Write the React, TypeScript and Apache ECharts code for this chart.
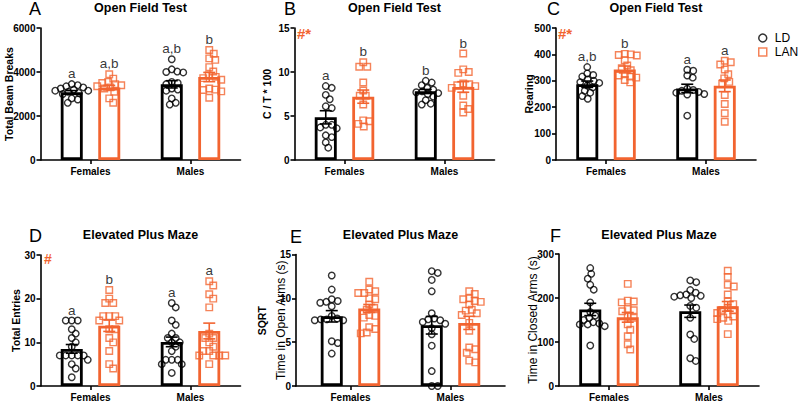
import React, { useEffect, useRef } from 'react';
import * as echarts from 'echarts';

const LD_COLOR = '#000000';
const LAN_COLOR = '#F26430';
const FONT = '"Liberation Sans", Arial, Helvetica, sans-serif';

const sexes = ['Females', 'Males'];
const groupNames = ['LD', 'LAN'];

// ---- Panel A: Open Field Test, Total Beam Breaks
const aLdFemales = [3450, 3400, 3350, 3300, 3250, 3200, 3150, 3150, 3100, 3050, 3000, 2800, 2750, 2600];
const aLanFemales = [3900, 3700, 3550, 3500, 3450, 3400, 3350, 3300, 3250, 3100, 2800, 2600];
const aLdMales = [4580, 4120, 4020, 4000, 3980, 3550, 3500, 3450, 3250, 3200, 3150, 2800, 2600, 2520];
const aLanMales = [5000, 4830, 4620, 4550, 4220, 4020, 3850, 3780, 3720, 3650, 3250, 3200, 3180, 3120, 2830];
const aMeans = [3080, 3290, 3440, 3770];
const aSems = [75, 100, 165, 210];
const aLetters = ['a', 'a,b', 'a,b', 'b'];

// ---- Panel B: Open Field Test, C / T * 100
const bLdFemales = [8.4, 8.2, 7.4, 6.9, 6.1, 5.9, 4.0, 4.0, 3.7, 3.6, 2.8, 2.6, 2.0, 1.4];
const bLanFemales = [11.1, 10.6, 10.6, 8.8, 7.9, 7.3, 7.3, 6.3, 4.5, 4.4, 4.1, 3.8];
const bLdMales = [9.0, 8.8, 8.5, 8.2, 8.0, 7.8, 7.7, 7.6, 7.5, 7.2, 6.8, 6.4, 6.3];
const bLanMales = [12.1, 10.3, 10.0, 9.9, 8.7, 8.6, 8.5, 8.4, 8.2, 7.3, 6.2, 5.8, 5.4];
const bMeans = [4.85, 7.2, 7.8, 8.3];
const bSems = [0.75, 0.75, 0.22, 0.6];
const bLetters = ['a', 'b', 'b', 'b'];

// ---- Panel C: Open Field Test, Rearing
const cLdFemales = [352, 328, 322, 316, 305, 300, 295, 292, 282, 275, 262, 255, 242, 232];
const cLanFemales = [402, 400, 398, 396, 378, 358, 348, 340, 325, 320, 316, 312, 303, 294];
const cLdMales = [342, 338, 320, 312, 270, 265, 262, 258, 255, 250, 248, 168];
const cLanMales = [376, 370, 362, 343, 325, 309, 296, 288, 246, 212, 177, 145];
const cMeans = [287, 343, 271, 281];
const cSems = [12, 13, 16, 22];
const cLetters = ['a,b', 'b', 'a', 'a'];

// ---- Panel D: Elevated Plus Maze, Total Entries
const dLdFemales = [15, 15, 15, 13, 12, 11, 10, 9, 7, 7, 7, 7, 7, 6, 5, 4, 2];
const dLanFemales = [22, 20, 19, 19, 16, 16, 16, 15, 15, 13, 13, 11, 10, 8, 5, 4];
const dLdMales = [19, 18, 15, 14, 12, 11, 11, 10, 10, 9, 8, 6, 6, 6, 5, 5, 3];
const dLanMales = [24, 23, 21, 20, 18, 12, 11, 11, 10, 9, 8, 8, 7, 7, 7, 7, 5];
const dMeans = [8.5, 13.8, 10.1, 12.6];
const dSems = [1.0, 1.3, 1.1, 1.8];
const dLetters = ['a', 'b', 'a', 'a'];

// ---- Panel E: Elevated Plus Maze, SQRT Time in Open Arms (s)
const eLdFemales = [12.6, 11.0, 9.9, 9.7, 9.6, 9.5, 9.1, 8.0, 7.7, 7.6, 7.6, 7.5, 7.5, 5.1, 4.9, 3.7];
const eLanFemales = [11.9, 11.0, 10.8, 10.6, 10.6, 10.0, 9.9, 9.3, 8.9, 8.7, 8.1, 8.0, 7.8, 6.7, 6.5, 6.1, 6.0];
const eLdMales = [13.1, 12.9, 12.1, 10.8, 8.3, 7.7, 7.6, 7.5, 7.3, 7.1, 6.6, 5.9, 4.6, 1.7, 0.0, 0.0];
const eLanMales = [10.8, 10.5, 10.0, 9.9, 9.7, 9.6, 9.3, 8.7, 8.6, 8.3, 8.1, 7.2, 6.3, 4.4, 4.2, 3.8, 2.9, 2.7];
const eMeans = [7.95, 8.85, 6.93, 7.2];
const eSems = [0.65, 0.45, 1.0, 0.75];
const eLetters: string[] = [];

// ---- Panel F: Elevated Plus Maze, Time in Closed Arms (s)
const fLdFemales = [268, 255, 244, 230, 219, 190, 168, 160, 155, 150, 145, 142, 140, 140, 136, 92];
const fLanFemales = [232, 194, 192, 190, 175, 172, 170, 158, 155, 140, 128, 113, 95, 83];
const fLdMales = [240, 236, 218, 212, 208, 206, 205, 203, 200, 182, 178, 155, 117, 107, 63, 57];
const fLanMales = [262, 248, 230, 226, 208, 192, 186, 178, 173, 172, 166, 164, 158, 155, 152, 148, 118];
const fMeans = [174, 156, 170, 181];
const fSems = [14, 11, 14, 11];
const fLetters: string[] = [];

// x positions (in category units) of LD/LAN bars within Females(0) and Males(1)
const barSlots = [-0.1875, 0.1875, 0.8125, 1.1875];

type Panel = {
  letter: string;
  title: string;
  yName: string;
  yPrefix: string;
  yNameBold: boolean;
  yMax: number;
  yStep: number;
  groups: number[][];
  means: number[];
  sems: number[];
  letters: string[];
  mark: string;
  left: number;
  top: number;
  width: number;
  height: number;
  xMin: number;
  xMax: number;
  nameGap: number;
  letterX: number;
  titleY: number;
  letterY: number;
  markX: number;
  markY: number;
  markSize: number;
  prefixX: number;
};

const panels: Panel[] = [
  {
    letter: 'A', title: 'Open Field Test', yName: 'Total Beam Breaks', yPrefix: '', yNameBold: true,
    yMax: 6000, yStep: 2000, groups: [aLdFemales, aLanFemales, aLdMales, aLanMales],
    means: aMeans, sems: aSems, letters: aLetters, mark: '',
    left: 40.5, top: 28, width: 200, height: 132, xMin: -0.5, xMax: 1.5, nameGap: 26,
    letterX: 29, titleY: 8, letterY: 8.5, markX: 0, markY: 0, markSize: 0, prefixX: 0,
  },
  {
    letter: 'B', title: 'Open Field Test', yName: 'C / T * 100', yPrefix: '', yNameBold: true,
    yMax: 15, yStep: 5, groups: [bLdFemales, bLanFemales, bLdMales, bLanMales],
    means: bMeans, sems: bSems, letters: bLetters, mark: '#*',
    left: 294.5, top: 28, width: 200, height: 132, xMin: -0.5, xMax: 1.5, nameGap: 22,
    letterX: 284, titleY: 8, letterY: 8.5, markX: 297, markY: 33, markSize: 15, prefixX: 0,
  },
  {
    letter: 'C', title: 'Open Field Test', yName: 'Rearing', yPrefix: '', yNameBold: true,
    yMax: 500, yStep: 100, groups: [cLdFemales, cLanFemales, cLdMales, cLanMales],
    means: cMeans, sems: cSems, letters: cLetters, mark: '#*',
    left: 556, top: 28, width: 200, height: 132, xMin: -0.5, xMax: 1.5, nameGap: 22,
    letterX: 547, titleY: 8, letterY: 8.5, markX: 558, markY: 33, markSize: 15, prefixX: 0,
  },
  {
    letter: 'D', title: 'Elevated Plus Maze', yName: 'Total Entries', yPrefix: '', yNameBold: true,
    yMax: 30, yStep: 10, groups: [dLdFemales, dLanFemales, dLdMales, dLanMales],
    means: dMeans, sems: dSems, letters: dLetters, mark: '#',
    left: 40.5, top: 255, width: 200, height: 132, xMin: -0.5, xMax: 1.5, nameGap: 19,
    letterX: 29, titleY: 234.5, letterY: 236, markX: 44, markY: 259, markSize: 14, prefixX: 0,
  },
  {
    letter: 'E', title: 'Elevated Plus Maze', yName: 'Time in Open Arms (s)', yPrefix: 'SQRT', yNameBold: false,
    yMax: 15, yStep: 5, groups: [eLdFemales, eLanFemales, eLdMales, eLanMales],
    means: eMeans, sems: eSems, letters: eLetters, mark: '',
    left: 296, top: 254.5, width: 209, height: 132.5, xMin: -0.545, xMax: 1.545, nameGap: 9,
    letterX: 290, titleY: 234.5, letterY: 236.5, markX: 0, markY: 0, markSize: 0, prefixX: 262,
  },
  {
    letter: 'F', title: 'Elevated Plus Maze', yName: 'Time in Closed Arms (s)', yPrefix: '', yNameBold: false,
    yMax: 300, yStep: 100, groups: [fLdFemales, fLanFemales, fLdMales, fLanMales],
    means: fMeans, sems: fSems, letters: fLetters, mark: '',
    left: 559, top: 254, width: 200, height: 132, xMin: -0.5, xMax: 1.5, nameGap: 20,
    letterX: 550, titleY: 234.5, letterY: 236, markX: 0, markY: 0, markSize: 0, prefixX: 0,
  },
];

// simple beeswarm layout (pixel space) so that hollow markers do not pile up
function swarm(values: number[], pxPerY: number, diameter: number) {
  const placed: { x: number; y: number }[] = [];
  const order = values.slice().sort((a, b) => b - a);
  const res: { off: number; v: number }[] = [];
  for (const v of order) {
    const y = v * pxPerY;
    let chosen = 0;
    for (let k = 0; k < 400; k++) {
      const step = Math.ceil(k / 2) * 0.5;
      const cand = k === 0 ? 0 : k % 2 === 1 ? step : -step;
      let ok = true;
      for (const q of placed) {
        const dx = q.x - cand;
        const dy = q.y - y;
        if (dx * dx + dy * dy < diameter * diameter) {
          ok = false;
          break;
        }
      }
      if (ok) {
        chosen = cand;
        break;
      }
    }
    placed.push({ x: chosen, y });
    res.push({ off: chosen, v });
  }
  return res;
}

function buildOption() {
  const grid: any[] = [];
  const xAxis: any[] = [];
  const yAxis: any[] = [];
  const series: any[] = [];
  const graphic: any[] = [];

  panels.forEach((p, i) => {
    grid.push({ left: p.left, top: p.top, width: p.width, height: p.height, containLabel: false });
    xAxis.push({
      type: 'value',
      gridIndex: i,
      min: p.xMin,
      max: p.xMax,
      axisLine: { show: true, onZero: false, lineStyle: { color: '#000', width: 1.6 } },
      axisTick: { show: true, customValues: [0, 1], length: 4, lineStyle: { color: '#000', width: 1.6 } },
      axisLabel: {
        show: true,
        customValues: [0, 1],
        formatter: (v: number) => sexes[Math.round(v)] || '',
        color: '#000',
        fontSize: 10,
        fontWeight: 'bold',
        fontFamily: FONT,
        margin: 6,
      },
      splitLine: { show: false },
    });
    yAxis.push({
      type: 'value',
      gridIndex: i,
      min: 0,
      max: p.yMax,
      interval: p.yStep,
      name: p.yName,
      nameLocation: 'middle',
      nameGap: p.nameGap,
      nameMoveOverlap: false,
      nameTextStyle: {
        color: '#000',
        fontFamily: FONT,
        fontSize: p.yNameBold ? 10.5 : 12,
        fontWeight: p.yNameBold ? 'bold' : 'normal',
      },
      axisLine: { show: true, onZero: false, lineStyle: { color: '#000', width: 1.6 } },
      axisTick: { show: true, length: 4, lineStyle: { color: '#000', width: 1.6 } },
      axisLabel: {
        color: '#000',
        fontSize: 10,
        fontWeight: 'bold',
        fontFamily: FONT,
        margin: 5,
        formatter: (v: number) => String(v),
      },
      splitLine: { show: false },
    });

    const pxPerX = p.width / (p.xMax - p.xMin);
    const pxPerY = p.height / p.yMax;

    // bars
    series.push({
      type: 'bar',
      name: 'bars' + i,
      xAxisIndex: i,
      yAxisIndex: i,
      barWidth: 22,
      silent: true,
      z: 1,
      itemStyle: { color: '#ffffff', borderWidth: 2.8 },
      data: p.means.map((m, k) => ({
        value: [barSlots[k], m],
        itemStyle: { borderColor: k % 2 === 0 ? LD_COLOR : LAN_COLOR },
      })),
    });

    // individual points
    [0, 1].forEach((g) => {
      const data: number[][] = [];
      [g, g + 2].forEach((k) => {
        swarm(p.groups[k], pxPerY, 5.8).forEach((pt) => {
          data.push([barSlots[k] + pt.off / pxPerX, pt.v]);
        });
      });
      series.push({
        type: 'scatter',
        name: groupNames[g],
        xAxisIndex: i,
        yAxisIndex: i,
        symbol: g === 0 ? 'circle' : 'rect',
        symbolSize: 6.5,
        clip: false,
        silent: true,
        z: 3,
        itemStyle: {
          color: 'rgba(255,255,255,0)',
          borderColor: g === 0 ? LD_COLOR : LAN_COLOR,
          borderWidth: 1.4,
        },
        data,
      });
    });

    // error bars (mean ± SEM)
    series.push({
      type: 'custom',
      name: 'sem' + i,
      xAxisIndex: i,
      yAxisIndex: i,
      silent: true,
      z: 5,
      data: p.means.map((m, k) => [barSlots[k], m, p.sems[k], k % 2]),
      renderItem: (_params: any, api: any) => {
        const x = api.value(0);
        const m = api.value(1);
        const s = api.value(2);
        const g = api.value(3);
        const top = api.coord([x, m + s]);
        const bot = api.coord([x, m - s]);
        const color = g ? LAN_COLOR : LD_COLOR;
        const hw = 6;
        const st = { stroke: color, lineWidth: 1.6 };
        return {
          type: 'group',
          children: [
            { type: 'line', shape: { x1: top[0], y1: top[1], x2: bot[0], y2: bot[1] }, style: st },
            { type: 'line', shape: { x1: top[0] - hw, y1: top[1], x2: top[0] + hw, y2: top[1] }, style: st },
            { type: 'line', shape: { x1: bot[0] - hw, y1: bot[1], x2: bot[0] + hw, y2: bot[1] }, style: st },
          ],
        };
      },
    });

    // significance letters above each group
    if (p.letters.length) {
      series.push({
        type: 'scatter',
        name: 'letters' + i,
        xAxisIndex: i,
        yAxisIndex: i,
        symbolSize: 1,
        silent: true,
        clip: false,
        z: 6,
        itemStyle: { color: 'rgba(0,0,0,0)' },
        label: {
          show: true,
          position: 'top',
          distance: 3,
          formatter: '{b}',
          color: '#000',
          fontSize: 13.5,
          fontFamily: FONT,
        },
        data: p.letters.map((t, k) => ({ name: t, value: [barSlots[k], Math.max(...p.groups[k])] })),
      });
    }

    // panel title and letter
    graphic.push({
      type: 'text',
      x: p.left + p.width / 2,
      y: p.titleY,
      silent: true,
      style: {
        text: p.title,
        fontSize: 12.5,
        fontWeight: 'bold',
        fontFamily: FONT,
        fill: '#000',
        align: 'center',
        verticalAlign: 'middle',
      },
    });
    graphic.push({
      type: 'text',
      x: p.letterX,
      y: p.letterY,
      silent: true,
      style: {
        text: p.letter,
        fontSize: 18,
        fontFamily: FONT,
        fill: '#000',
        align: 'left',
        verticalAlign: 'middle',
      },
    });
    if (p.mark) {
      graphic.push({
        type: 'text',
        x: p.markX,
        y: p.markY,
        silent: true,
        style: {
          text: p.mark,
          fontSize: p.markSize,
          fontWeight: 'bold',
          fontFamily: FONT,
          fill: LAN_COLOR,
          align: 'left',
          verticalAlign: 'middle',
        },
      });
    }
    if (p.yPrefix) {
      graphic.push({
        type: 'text',
        x: p.prefixX,
        y: p.top + p.height / 2,
        rotation: Math.PI / 2,
        silent: true,
        style: {
          text: p.yPrefix,
          fontSize: 10.5,
          fontWeight: 'bold',
          fontFamily: FONT,
          fill: '#000',
          align: 'center',
          verticalAlign: 'middle',
        },
      });
    }
  });

  return {
    animation: false,
    backgroundColor: '#ffffff',
    legend: {
      orient: 'vertical',
      left: 753,
      top: 27,
      itemWidth: 14,
      itemHeight: 8,
      itemGap: 2,
      selectedMode: false,
      textStyle: { fontSize: 12, fontFamily: FONT, color: '#000' },
      data: [
        { name: 'LD', icon: 'circle', itemStyle: { color: '#fff', borderColor: LD_COLOR, borderWidth: 1.5 } },
        { name: 'LAN', icon: 'path://M0 0H10V10H0Z', itemStyle: { color: '#fff', borderColor: LAN_COLOR, borderWidth: 1.5 } },
      ],
    },
    grid,
    xAxis,
    yAxis,
    series,
    graphic,
  };
}

export default function App() {
  const ref = useRef<HTMLDivElement>(null);
  useEffect(() => {
    if (!ref.current) return;
    const chart = echarts.init(ref.current, undefined, { renderer: 'svg' });
    chart.setOption(buildOption() as any);
    return () => chart.dispose();
  }, []);
  return (
    <div
      ref={ref}
      style={{ position: 'fixed', left: 0, top: 0, width: 800, height: 402, background: '#fff' }}
    />
  );
}
